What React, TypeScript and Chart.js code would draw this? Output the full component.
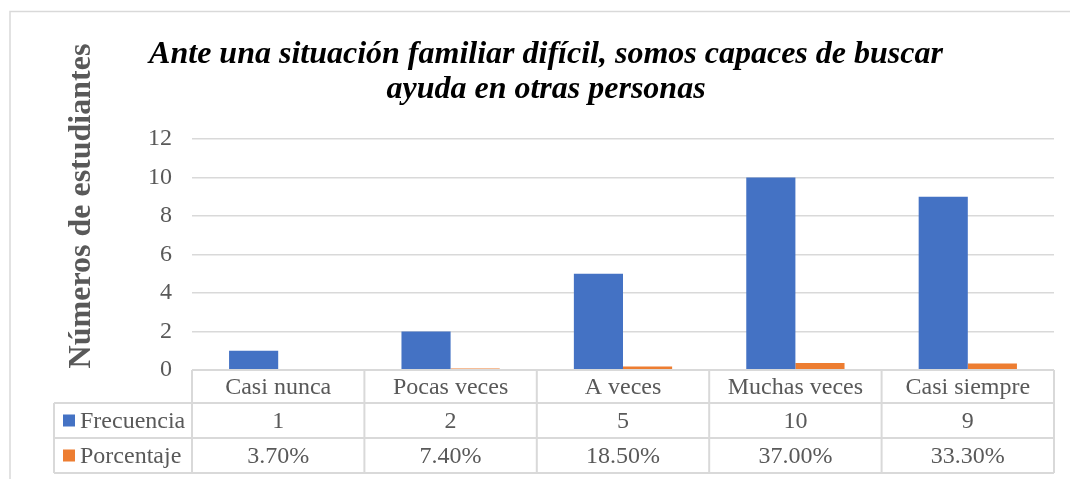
import React, { useEffect, useRef } from "react";
import { Chart, registerables } from "chart.js";

Chart.register(...registerables);

const categories = ["Casi nunca", "Pocas veces", "A veces", "Muchas veces", "Casi siempre"];
const frecuencia = [1, 2, 5, 10, 9];
const porcentaje = [0.037, 0.074, 0.185, 0.37, 0.333];
const seriesNames = ["Frecuencia", "Porcentaje"];
const yTicks = [0, 2, 4, 6, 8, 10, 12];
const titleLines = ["Ante una situación familiar difícil, somos capaces de buscar", "ayuda en otras personas"];
const yTitle = "Números de estudiantes";

const BLUE = "#4472C4";
const ORANGE = "#ED7D31";
const GRID = "#d9d9d9";
const TEXT = "#595959";
const FONT = "'Liberation Serif', 'Times New Roman', serif";

const tablePlugin = {
  id: "tablePlugin",
  afterDraw(chart: any) {
    const ctx = chart.ctx as CanvasRenderingContext2D;
    const area = chart.chartArea;
    const n = categories.length;
    const colW = (area.right - area.left) / n;
    const rowTop = area.bottom;
    const rowH = [33, 35, 35];
    const r1 = rowTop + rowH[0];
    const r2 = r1 + rowH[1];
    const r3 = r2 + rowH[2];
    const labelLeft = 54;

    ctx.save();
    // outer border
    ctx.strokeStyle = GRID;
    ctx.lineWidth = 1.5;
    ctx.beginPath();
    ctx.moveTo(10, chart.height + 2);
    ctx.lineTo(10, 11.5);
    ctx.lineTo(chart.width + 2, 11.5);
    ctx.stroke();

    // title
    ctx.fillStyle = "#000";
    ctx.font = `italic bold 32px ${FONT}`;
    ctx.textAlign = "center";
    ctx.textBaseline = "alphabetic";
    ctx.fillText(titleLines[0], 546, 63);
    ctx.fillText(titleLines[1], 546, 98);

    // y title
    ctx.save();
    ctx.translate(82, 206);
    ctx.rotate(-Math.PI / 2);
    ctx.fillStyle = TEXT;
    ctx.font = `bold 32px ${FONT}`;
    ctx.textAlign = "center";
    ctx.textBaseline = "middle";
    ctx.fillText(yTitle, 0, 0);
    ctx.restore();

    // table lines
    ctx.strokeStyle = GRID;
    ctx.lineWidth = 2;
    ctx.beginPath();
    ctx.moveTo(area.left, rowTop);
    ctx.lineTo(area.right, rowTop);
    [r1, r2, r3].forEach((y) => {
      ctx.moveTo(labelLeft, y);
      ctx.lineTo(area.right, y);
    });
    for (let i = 0; i <= n; i++) {
      const x = area.left + i * colW;
      ctx.moveTo(x, rowTop);
      ctx.lineTo(x, r3);
    }
    ctx.moveTo(labelLeft, r1);
    ctx.lineTo(labelLeft, r3);
    ctx.stroke();

    // texts
    ctx.fillStyle = TEXT;
    ctx.font = `24px ${FONT}`;
    ctx.textAlign = "center";
    ctx.textBaseline = "middle";
    const rows = [
      categories,
      frecuencia.map((v) => String(v)),
      porcentaje.map((v) => (v * 100).toFixed(2) + "%"),
    ];
    const centers = [(rowTop + r1) / 2, (r1 + r2) / 2, (r2 + r3) / 2];
    rows.forEach((row, ri) => {
      row.forEach((t, i) => {
        ctx.fillText(t, area.left + (i + 0.5) * colW, centers[ri] + 1);
      });
    });

    // legend keys + series names
    const colors = [BLUE, ORANGE];
    seriesNames.forEach((name, i) => {
      const cy = centers[i + 1];
      ctx.fillStyle = colors[i];
      ctx.fillRect(63, cy - 6, 12, 12);
      ctx.fillStyle = TEXT;
      ctx.textAlign = "left";
      ctx.fillText(name, 80, cy + 1);
    });
    ctx.restore();
  },
};

export default function App() {
  const ref = useRef<HTMLCanvasElement>(null);
  useEffect(() => {
    if (!ref.current) return;
    const chart = new Chart(ref.current, {
      type: "bar",
      data: {
        labels: categories,
        datasets: [
          { label: seriesNames[0], data: frecuencia, backgroundColor: BLUE, borderWidth: 0 },
          { label: seriesNames[1], data: porcentaje, backgroundColor: ORANGE, borderWidth: 0 },
        ],
      },
      options: {
        animation: false,
        responsive: false,
        layout: { padding: { left: 0, right: 16, top: 139, bottom: 109 } },
        datasets: { bar: { categoryPercentage: 0.57, barPercentage: 1 } },
        plugins: { legend: { display: false }, tooltip: { enabled: false }, title: { display: false } },
        scales: {
          x: { display: false },
          y: {
            min: 0,
            max: 12,
            afterFit: (s: any) => {
              s.width = 192;
            },
            afterBuildTicks: (s: any) => {
              s.ticks = yTicks.map((v) => ({ value: v }));
            },
            border: { display: false },
            grid: { color: GRID, lineWidth: 1.5, drawTicks: false },
            ticks: { color: TEXT, font: { family: FONT, size: 24 }, padding: 20 },
          },
        },
      },
      plugins: [tablePlugin],
    });
    return () => chart.destroy();
  }, []);
  return (
    <div style={{ position: "absolute", left: 0, top: 0, width: 1070, height: 479, background: "#fff" }}>
      <canvas ref={ref} width={1070} height={479} />
    </div>
  );
}
